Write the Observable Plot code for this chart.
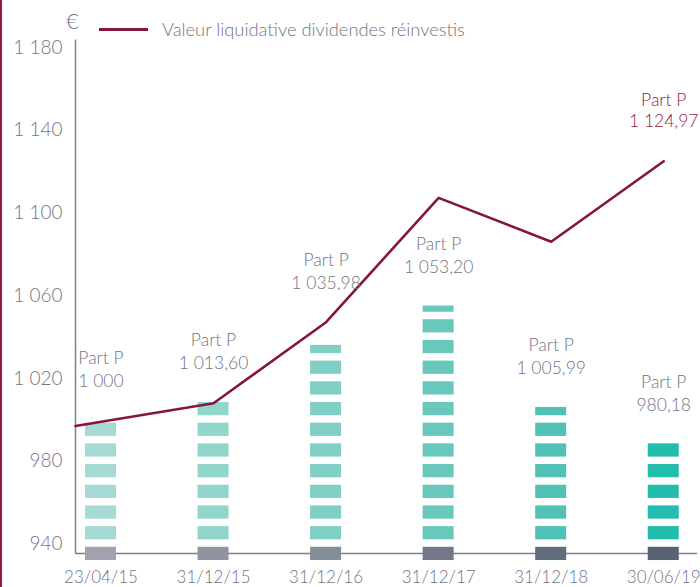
<!DOCTYPE html>
<html><head><meta charset="utf-8">
<script src="https://cdn.jsdelivr.net/npm/d3@7"></script>
<script src="https://cdn.jsdelivr.net/npm/@observablehq/plot@0.6"></script>
<style>
body{margin:0;background:#fff;font-family:Lato,"Open Sans",sans-serif;}
#wrap{position:relative;width:700px;height:587px;overflow:hidden;}
#wrap svg{position:absolute;left:0;top:0;}
#border{position:absolute;left:0;top:0;width:2px;height:587px;background:#8c1a42;}
#euro{position:absolute;left:66px;top:8px;font-size:22px;line-height:26px;color:#6f7585;font-weight:300;}
#legend{position:absolute;left:99px;top:18px;height:22px;display:flex;align-items:center;font-size:18.3px;color:#6f7585;font-weight:300;}
#legend .sw{display:inline-block;width:49px;height:3px;background:#861640;margin-right:14px;}
</style></head><body>
<div id="wrap"><div id="border"></div><div id="euro">€</div><div id="legend"><span class="sw"></span><span>Valeur liquidative dividendes réinvestis</span></div></div>
<script>
// Data
const dates = ["23/04/15", "31/12/15", "31/12/16", "31/12/17", "31/12/18", "30/06/19"];
const partP = [1000, 1013.60, 1035.98, 1053.20, 1005.99, 980.18];
const barLevel = [1000, 1008.5, 1036, 1055, 1006, 988.5];
const navValues = [997, 1008, 1047.2, 1107.3, 1086.1, 1124.97];
const stripeColors = ["#a6dbd5", "#91d5cb", "#80cfc5", "#69c8bc", "#52c1b5", "#22bdac"];
const baseColors = ["#a2a2ae", "#9094a1", "#848c97", "#727889", "#656b7e", "#5a6175"];
const yTicks = [940, 980, 1020, 1060, 1100, 1140, 1180];

const xDomain = [-0.2265, 5.3];
const yDomain = [935.4, 1183.6];
const half = 0.1377;
const gray = "#6f7585";
const maroon = "#861640";

const fmtNum = (v, dec) => {
  const s = d3.format(dec ? ",.2f" : ",")(v);
  return s.replace(/,/g, " ").replace(".", ",");
};

// stripes (every 10 units, clipped at bar level)
const stripes = [];
barLevel.forEach((lvl, i) => {
  for (let k = 0; 932 + 10 * k < lvl; k++) {
    stripes.push({i, y1: 932 + 10 * k, y2: Math.min(938.4 + 10 * k, lvl), fill: k === 0 ? baseColors[i] : stripeColors[i]});
  }
});

const nav = navValues.map((v, i) => ({x: i === 0 ? xDomain[0] : i, v}));

const labels = partP.map((v, i) => {
  const gap = navValues[i] - barLevel[i];
  return {i, y: gap > 0 && gap < 30 ? navValues[i] : barLevel[i], text: "Part P\n" + fmtNum(v, v % 1 !== 0)};
});
const last = navValues.length - 1;
const navLabel = [{i: last, y: navValues[last], text: "Part P\n" + fmtNum(navValues[last], true)}];

const chart = Plot.plot({
  width: 700, height: 587,
  marginLeft: 75, marginRight: 3, marginTop: 39.5, marginBottom: 34,
  style: {fontFamily: "Lato, 'Open Sans', sans-serif", fontWeight: 300, background: "transparent", color: gray, overflow: "visible"},
  x: {type: "linear", domain: xDomain},
  y: {type: "linear", domain: yDomain},
  marks: [
    Plot.axisY({ticks: yTicks, tickSize: 0, tickPadding: 13, fontSize: 19, fill: gray, label: null,
      tickFormat: d => fmtNum(d, false)}),
    Plot.axisX({ticks: dates.map((d, i) => i), tickSize: 0, tickPadding: 17.5, fontSize: 17, fill: gray, label: null,
      tickFormat: i => dates[i]}),
    Plot.ruleX([xDomain[0]], {stroke: "#7c8190", strokeWidth: 1.5}),
    Plot.ruleY([yDomain[0]], {stroke: "#7c8190", strokeWidth: 1.5}),
    Plot.rect(stripes, {x1: d => d.i - half, x2: d => d.i + half, y1: "y1", y2: "y2", fill: "fill"}),
    Plot.line(nav, {x: "x", y: "v", stroke: maroon, strokeWidth: 2.6}),
    Plot.text(labels, {x: "i", y: "y", text: "text", dy: -33, lineAnchor: "bottom", lineHeight: 1.32, fontSize: 17.5, fill: gray}),
    Plot.text(navLabel, {x: "i", y: "y", text: "text", dy: -34, lineAnchor: "bottom", lineHeight: 1.22, fontSize: 17.5, fill: "#8e1d45"})
  ]
});
document.getElementById("wrap").appendChild(chart);
</script>
</body></html>
